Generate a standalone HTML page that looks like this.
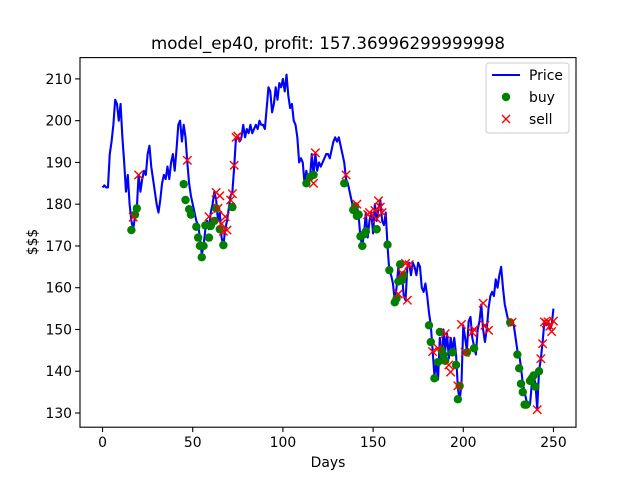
<!DOCTYPE html>
<html><head><meta charset="utf-8"><style>
body{margin:0;background:#fff}
svg{display:block;font-family:"DejaVu Sans","Liberation Sans",sans-serif}
</style></head><body>
<svg id="c" width="640" height="480" viewBox="0 0 640 480">
<rect width="640" height="480" fill="#fff"/>
<text x="328" y="49" font-size="16.7" text-anchor="middle">model_ep40, profit: 157.36996299999998</text>
<g id="plot"></g>
<rect x="80" y="57.6" width="496" height="369.6" fill="none" stroke="#000" stroke-width="1.1"/>
<text x="328" y="467" font-size="13.9" text-anchor="middle">Days</text>
<text x="37" y="242" font-size="13.9" text-anchor="middle" transform="rotate(-90 37 242)">$$$</text>
<g>
<rect x="486" y="63" width="83" height="70" rx="3" fill="#fff" fill-opacity="0.8" stroke="#ccc"/>
<g><line x1="492" y1="75" x2="520" y2="75" stroke="#0000ff" stroke-width="2.1"/><text x="529" y="80" font-size="13.9">Price</text></g>
<g><circle cx="506" cy="97" r="4.2" fill="#008000"/><text x="529" y="102" font-size="13.9">buy</text></g>
<g><path d="M502 115l8 8M510 115l-8 8" stroke="#ff0000" stroke-width="1.4"/><text x="529" y="124" font-size="13.9">sell</text></g>
</g>
</svg>
<script>
const prices=[184,184.5,184,184,192,195,199,205,204,200,204,196,190,183,187,180,176,174,177,179,187,183,186,188,187,192,194,189,186,183,180,178,181,185,187,186,189,186,190,192,188,193,199,200,195,199,196,190,185,182,180,178,176,175,172,168,170,174,176,174,178,180,183,181,176,178,172,170,174,176,179,182,183,189,196,196,195,196,199,196,198,197,199,197,198,199,198,200,199,199,198,203,208,207,202,204,208,205,209,208,210,207,211,206,203,204,200,199,196,190,191,190,185,188,185,186,192,187,192,188,190,189,190,191,192,192,191,193,195,196,195,196,194,192,190,186,185,183,181,179,178,180,177,172,170,173,178,172,176,178,173,180,176,179,181,176,175,178,170,164,163,161,157,160,165,161,163,158,157,165,166,163,166,165,163,166,165,160,159,161,158,154,151,145,139,142,138,148,142,150,145,149,143,148,145,148,144,136,133,137,151,148,145,152,153,148,146,144,150,152,156,150,147,150,155,158,159,158,162,160,163,165,160,156,154,152,152,151.5,151,148,145,144,141,137,135,133,132,132,137,139,137,131,140,143,147,152,151,152,150,151,155];
const buyDays=[16,18,19,45,46,48,49,52,53,54,55,56,57,59,60,62,63,65,67,72,113,115,117,134,139,140,141,142,143,144,145,146,152,158,159,162,163,164,165,166,167,181,182,184,186,187,188,189,190,194,196,197,198,202,206,226,230,231,232,233,234,235,237,238,239,240,242];
const buyPrices=[173.8,177.5,179,184.8,181,178.8,177.5,174.6,172,170,167.3,170,174.9,172,174.8,176,179,174,170.2,179.3,185,186.5,187,185,178.6,179.5,177.2,177.5,172.3,170,172.8,173.5,174,170.3,164.2,156.5,157.4,161.5,165.6,161.8,163,151,147,138.3,142.2,149.4,145,144,142.5,144.5,141.5,133.3,136.5,144.5,145.5,151.7,144,140.7,137,135,132,132,137.7,138.3,139,136.3,140];
const sellDays=[17,20,47,59,63,64,65,66,67,68,69,71,72,73,74,75,117,118,135,141,147,148,151,152,153,154,155,164,166,168,169,170,183,186,190,192,193,197,199,201,205,206,211,212,214,227,241,243,244,245,246,247,248,249,250];
const sellPrices=[176.9,187,190.5,177,182.8,179,182,175.3,173.5,177,173.8,181,182.5,189.3,196,196.3,185,192.3,187,180,177.5,178,178.5,176.5,180.8,179.3,178,158.5,163.5,165.8,157,165.5,144.7,145.5,149,141.5,139.8,136.5,151.2,144.5,149.3,150,156.3,151,149.8,151.7,130.8,143,146.6,151.8,151.5,151.8,150.8,149.5,152];
const xTicks=[0,50,100,150,200,250];
const yTicks=[130,140,150,160,170,180,190,200,210];
const X0=80,X1=576,Y0=427.2,Y1=57.6,xmin=-12.5,xmax=262.5,ymin=126.6,ymax=215.1;
function sx(d){return X0+(d-xmin)/(xmax-xmin)*(X1-X0);}
function sy(v){return Y0-(v-ymin)/(ymax-ymin)*(Y0-Y1);}
const NS="http://www.w3.org/2000/svg";
const svg=document.getElementById('c');
const g=document.getElementById('plot');
function mk(t,a,p){const e=document.createElementNS(NS,t);for(const k in a)e.setAttribute(k,a[k]);(p||g).appendChild(e);return e;}
xTicks.forEach(t=>{const x=sx(t);
 const l=mk('line',{x1:x,x2:x,y1:Y0,y2:Y0+4.9,stroke:'#000','stroke-width':1.1},svg);
 
 
 const s=mk('text',{x:x,y:Y0+20,'font-size':13.9,'text-anchor':'middle'},svg);s.textContent=t;
 
 });
yTicks.forEach(t=>{const y=sy(t);
 const l=mk('line',{x1:X0-4.9,x2:X0,y1:y,y2:y,stroke:'#000','stroke-width':1.1},svg);
 
 
 const s=mk('text',{x:X0-8,y:y+5,'font-size':13.9,'text-anchor':'end'},svg);s.textContent=t;
 
 });
const line=mk('polyline',{points:prices.map((p,i)=>sx(i)+','+sy(p)).join(' '),fill:'none',stroke:'#0000ff','stroke-width':2.1,'stroke-linejoin':'round'});


buyDays.forEach((d,i)=>{const c=mk('circle',{cx:sx(d),cy:sy(buyPrices[i]),r:4.2,fill:'#008000'});
 
 });
sellDays.forEach((d,i)=>{const x=sx(d),y=sy(sellPrices[i]);
 const p=mk('path',{d:`M${x-4.2} ${y-4.2}L${x+4.2} ${y+4.2}M${x+4.2} ${y-4.2}L${x-4.2} ${y+4.2}`,stroke:'#ff0000','stroke-width':1.4});
 
 });
</script>
</body></html>
